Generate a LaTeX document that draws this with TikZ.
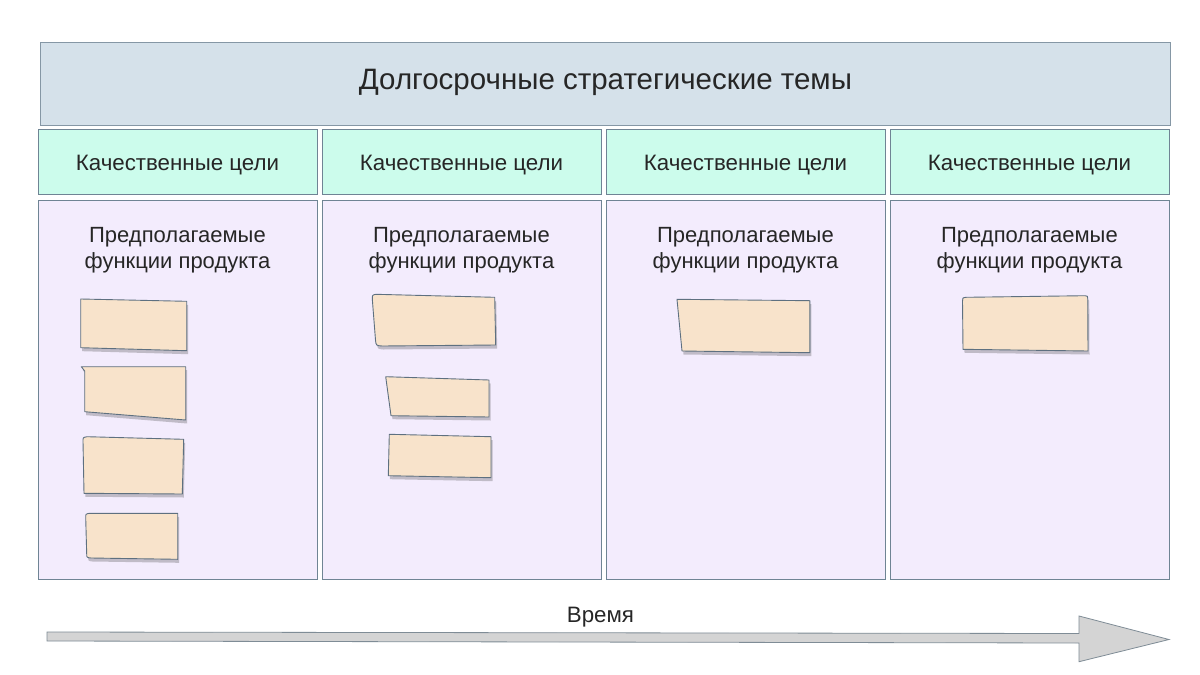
\documentclass[tikz,border=0pt]{standalone}
\usepackage{fontspec}
\setmainfont{Liberation Sans}
\usetikzlibrary{shadows}
\definecolor{topfill}{HTML}{D5E1EA}
\definecolor{topline}{HTML}{8597A5}
\definecolor{qualfill}{HTML}{CCFCEC}
\definecolor{colfill}{HTML}{F3ECFD}
\definecolor{boxline}{HTML}{6F8494}
\definecolor{notefill}{HTML}{F8E3CB}
\definecolor{noteline}{HTML}{5E7080}
\definecolor{arrowfill}{HTML}{D4D4D4}
\definecolor{arrowline}{HTML}{7F8C96}
\definecolor{txt}{HTML}{262626}
\tikzset{
  panel/.style={draw=boxline, line width=0.9pt, anchor=north west, inner sep=0pt, text=txt},
  topbox/.style={panel, draw=topline, fill=topfill, minimum width=1130pt, minimum height=83pt},
  qualbox/.style={panel, fill=qualfill, minimum width=279pt, minimum height=65pt},
  colbox/.style={panel, fill=colfill, minimum width=279pt, minimum height=379pt},
  title/.style={text=txt, inner sep=0pt, font=\fontsize{29.5}{33}\selectfont},
  qlabel/.style={text=txt, inner sep=0pt, font=\fontsize{22.3}{26}\selectfont},
  collabel/.style={align=center, text=txt, font=\fontsize{22}{26}\selectfont, inner sep=0pt, anchor=north},
  note/.style={draw=noteline, line width=0.9pt, fill=notefill, line join=round,
    drop shadow={opacity=0.3, shadow xshift=1.5pt, shadow yshift=-3.5pt, fill=black!70}},
}
\begin{document}
\begin{tikzpicture}[x=1pt, y=-1pt]
\useasboundingbox (0,0) rectangle (1200,675);
\fill[white] (0,0) rectangle (1200,675);

\node[topbox] (top) at (40,42) {};
\node[title] (toptext) at ([yshift=2pt]top.center) {Долгосрочные стратегические темы};

\foreach \i/\x in {1/37.5, 2/321.5, 3/605.5, 4/889.5}{
  \node[qualbox] (q\i) at (\x,128.5) {};
  \node[qlabel] (qt\i) at ([yshift=-4pt]q\i.center) {Качественные цели};
  \node[colbox] (c\i) at (\x,199.5) {};
  \node[collabel] (l\i) at ([yshift=-28pt]c\i.north) {Предполагаемые\\функции продукта};
}

% column 1 notes
\draw[note] (80.7,299) -- (186.7,301.3) -- (186.7,350.7) -- (80.7,347.7) -- cycle;
\draw[note] (81.3,366.7) -- (185.7,366.7) -- (185.7,420) -- (84.7,411.7) -- (84.7,371) -- cycle;
\draw[note] (87,436.7) -- (183.7,439.3) -- (182.3,494) -- (84,493.3) -- (83,441) .. controls (83,437.5) .. (87,436.7) -- cycle;
\draw[note] (89.3,513.3) -- (177.7,513.3) -- (177.7,559.3) -- (91,558) .. controls (86.7,557.5) .. (86.7,554) -- (85.7,517.5) .. controls (85.7,514) .. (89.3,513.3) -- cycle;

% column 2 notes
\draw[note] (376,294.3) -- (494.7,297.3) -- (495.7,345) -- (382,346) .. controls (376,345.5) .. (375.5,340) -- (372.3,299) .. controls (372.3,295) .. (376,294.3) -- cycle;
\draw[note] (385.7,376.7) -- (489,380) -- (489,417) -- (391,415.7) -- cycle;
\draw[note] (389.3,434.3) -- (491,436.7) -- (491,477.7) -- (388.3,475.7) -- cycle;

% column 3 note
\draw[note] (677,299.3) -- (809.8,300.7) -- (809.8,352.7) -- (682,351) -- cycle;

% column 4 note
\draw[note] (966,297.3) -- (1085,295.7) .. controls (1087.7,296) .. (1087.7,298.5) -- (1088,351) -- (963,349.3) -- (962.5,301) .. controls (962.5,297.8) .. (966,297.3) -- cycle;

% time arrow
\coordinate (tail) at (47,636.5);
\coordinate (tip) at (1169,639.5);
\draw[draw=arrowline, fill=arrowfill, line width=0.8pt, line join=miter]
  (47,632) -- (1079,633.5) -- (1079,616) -- (tip) -- (1079,661.7) -- (1079,643) -- (47,641) -- cycle;
\node[text=txt, font=\fontsize{22.3}{26}\selectfont, inner sep=0pt, anchor=base] (time) at (600.5,622) {Время};
\end{tikzpicture}
\end{document}
